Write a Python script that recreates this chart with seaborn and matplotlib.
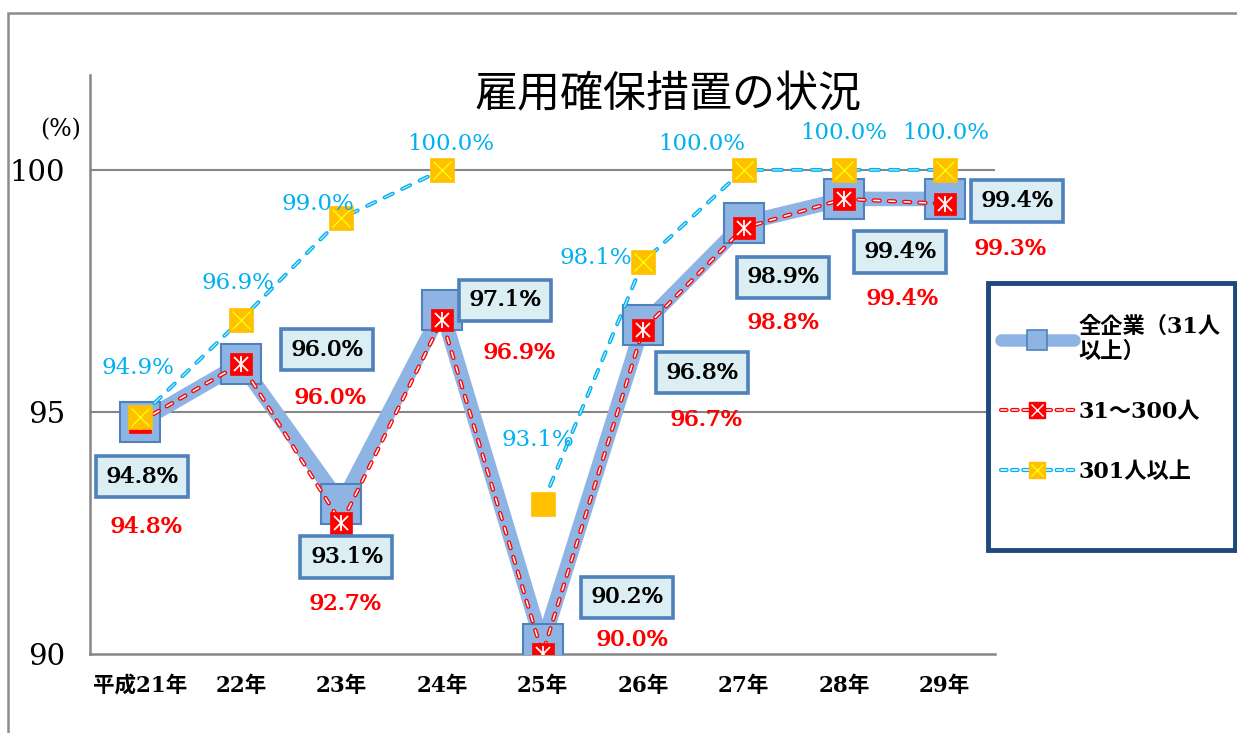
import numpy as np
import pandas as pd
import matplotlib
matplotlib.use("Agg")
import matplotlib.pyplot as plt
from matplotlib.lines import Line2D
from matplotlib.patches import Rectangle
from matplotlib.legend_handler import HandlerBase
import seaborn as sns

# ---------------- data ----------------
years = ["平成21年", "22年", "23年", "24年", "25年", "26年", "27年", "28年", "29年"]
all_firms = [94.8, 96.0, 93.1, 97.1, 90.2, 96.8, 98.9, 99.4, 99.4]
mid_firms = [94.8, 96.0, 92.7, 96.9, 90.0, 96.7, 98.8, 99.4, 99.3]
large_firms = [94.9, 96.9, 99.0, 100.0, 93.1, 98.1, 100.0, 100.0, 100.0]
series_names = ["全企業（31人\n以上）", "31～300人", "301人以上"]
title_text = "雇用確保措置の状況"
y_ticks = [90, 95, 100]

# ---------------- style ----------------
sns.set_theme(style="white")
SERIF = ["DejaVu Serif", "Noto Sans CJK JP"]
plt.rcParams["font.family"] = SERIF
plt.rcParams["text.color"] = "black"
plt.rcParams["xtick.color"] = "black"
plt.rcParams["ytick.color"] = "black"
plt.rcParams["lines.scale_dashes"] = False

C_ALL = "#8EB4E3"
C_ALL_EDGE = "#4F81BD"
C_MID = "#FF0000"
C_LARGE = "#00B0F0"
C_LARGE_IN = "#C8EFFD"
C_YEL = "#FFC000"

RED_DASH = (0, (4.5, 6.5))
BLUE_DASH = (0, (6.5, 7.5))

fig = plt.figure(figsize=(12.37, 7.33), dpi=100)
ax = fig.add_axes([90 / 1237, 1 - 654 / 733, (995 - 90) / 1237, (654 - 75) / 733])

df = pd.DataFrame({"x": np.arange(len(years)), "all": all_firms,
                   "mid": mid_firms, "large": large_firms})

# grid lines
for yv in y_ticks[1:]:
    ax.axhline(yv, color="#868686", lw=1.5, zorder=1)

# 全企業
sns.lineplot(data=df, x="x", y="all", ax=ax, color=C_ALL, lw=10.5,
             zorder=2, legend=False)
ax.lines[-1].set_solid_capstyle("butt")
ax.plot(df["x"], df["all"], ls="none", marker="s", ms=29, mfc=C_ALL,
        mec=C_ALL_EDGE, mew=1.5, zorder=3)

# 31～300人 : hollow-looking dashes (red outer, white inner)
for col, lw, z in ((C_MID, 3.0, 4), ("white", 1.1, 4.1)):
    sns.lineplot(data=df, x="x", y="mid", ax=ax, color=col, lw=lw,
                 zorder=z, legend=False)
    ax.lines[-1].set_linestyle(RED_DASH)
    ax.lines[-1].set_dash_capstyle("round")
ax.plot(df["x"], df["mid"], ls="none", marker="s", ms=16, mfc=C_MID,
        mec=C_MID, mew=0.5, zorder=5)
ax.plot(df["x"], df["mid"], ls="none", marker="x", ms=10, mec="white",
        mew=1.3, zorder=6)
ax.plot(df["x"], df["mid"], ls="none", marker="|", ms=12, mec="white",
        mew=1.3, zorder=6)

# 301人以上 (gap between 24年 and 25年)
for seg in (df.iloc[:4], df.iloc[4:]):
    for col, lw, z in ((C_LARGE, 2.8, 7), (C_LARGE_IN, 0.8, 7.1)):
        sns.lineplot(data=seg, x="x", y="large", ax=ax, color=col, lw=lw,
                     zorder=z, legend=False)
        ax.lines[-1].set_linestyle(BLUE_DASH)
        ax.lines[-1].set_dash_capstyle("round")
ax.plot(df["x"], df["large"], ls="none", marker="s", ms=17, mfc=C_YEL,
        mec=C_YEL, mew=0.5, zorder=8)
mask = np.arange(len(years)) != 4
ax.plot(df["x"][mask], df["large"][mask], ls="none", marker="x", ms=13,
        mec="#FFFF00", mew=1.0, zorder=9)

# ---------------- labels ----------------
off_all = [(2, -55), (86, 14), (5, -53), (63, 10), (84, 47), (59, -48),
           (39, -54), (56, -53), (72, -2)]
off_mid = [(6, -105), (89, -34), (3, -81), (77, -33), (89, 14), (63, -90),
           (39, -95), (58, -100), (65, -45)]
off_large = [(-2, 49), (-3, 37), (-24, 14), (9, 26), (-5, 64), (-47, 4),
             (-42, 26), (0, 37), (1, 37)]

LBL = 16.5
NUMFONT = "DejaVu Serif"


def label(txt, xy, off, color, shift, bbox=None):
    """Draw text; a second copy shifted slightly gives a medium weight."""
    ax.annotate(txt, xy, xytext=off, textcoords="offset pixels",
                ha="center", va="center", fontsize=LBL, color=color,
                fontfamily=NUMFONT, zorder=10, bbox=bbox)
    if shift:
        ax.annotate(txt, xy, xytext=(off[0] + shift, off[1]),
                    textcoords="offset pixels", ha="center", va="center",
                    fontsize=LBL, color=color, fontfamily=NUMFONT,
                    zorder=10.5)


for i in range(len(years)):
    label(f"{all_firms[i]:.1f}%", (i, all_firms[i]), off_all[i], "black",
          1.0, bbox=dict(boxstyle="square,pad=0.42", fc="#DAEEF3",
                         ec=C_ALL_EDGE, lw=2.6))
    label(f"{mid_firms[i]:.1f}%", (i, mid_firms[i]), off_mid[i], C_MID, 1.0)
    label(f"{large_firms[i]:.1f}%", (i, large_firms[i]), off_large[i],
          C_LARGE, 0)

# ---------------- axes ----------------
ax.set_xlim(-0.5, 8.5)
ax.set_ylim(90, 101.96)
ax.set_xticks(range(len(years)))
ax.set_xticklabels(years, fontsize=15.5, fontweight="bold")
ax.set_yticks(y_ticks)
ax.set_yticklabels([str(v) for v in y_ticks], fontsize=21)
ax.tick_params(axis="both", length=0)
ax.tick_params(axis="x", pad=15)
ax.tick_params(axis="y", pad=18)
ax.set_xlabel("")
ax.set_ylabel("")
for s in ("top", "right"):
    ax.spines[s].set_visible(False)
for s in ("left", "bottom"):
    ax.spines[s].set_color("#868686")
    ax.spines[s].set_linewidth(1.8)

fig.text(61 / 1237, 1 - 130 / 733, "(%)", fontsize=17, ha="center",
         va="center", family=SERIF)
fig.text(668 / 1237, 1 - 95 / 733, title_text, fontsize=31, ha="center",
         va="center", family=["Noto Sans CJK JP"], color="black")

# outer border
fig.patches.append(Rectangle((8 / 1237, -0.2), 1.2, 1 - 13 / 733 + 0.2,
                             transform=fig.transFigure, fill=False,
                             ec="#8C8C8C", lw=1.8, zorder=0))

# ---------------- legend ----------------
fig.patches.append(Rectangle((988 / 1237, 1 - 550 / 733), 0.2,
                             (550 - 283) / 733, transform=fig.transFigure,
                             fc="white", ec="#1F497D", lw=3.5, zorder=20))


class DashHandler(HandlerBase):
    def __init__(self, outer, inner, dash, mfc, mec, ms, xmark=None):
        super().__init__()
        self.outer, self.inner, self.dash = outer, inner, dash
        self.mfc, self.mec, self.ms, self.xmark = mfc, mec, ms, xmark

    def create_artists(self, legend, orig_handle, xdescent, ydescent, width,
                       height, fontsize, trans):
        y = height / 2 - ydescent
        xs = [-xdescent, width - xdescent]
        a = Line2D(xs, [y, y], color=self.outer, lw=3.0, ls=self.dash,
                   dash_capstyle="round", transform=trans)
        b = Line2D(xs, [y, y], color=self.inner, lw=1.1, ls=self.dash,
                   dash_capstyle="round", transform=trans)
        m = Line2D([width / 2 - xdescent], [y], ls="none", marker="s",
                   ms=self.ms, mfc=self.mfc, mec=self.mec, transform=trans)
        arts = [a, b, m]
        if self.xmark:
            arts.append(Line2D([width / 2 - xdescent], [y], ls="none",
                               marker="x", ms=self.ms * 0.7, mec=self.xmark,
                               mew=1.0, transform=trans))
        return arts


h_all = Line2D([], [], color=C_ALL, lw=9, marker="s", ms=14, mfc=C_ALL,
               mec=C_ALL_EDGE, mew=1.2, solid_capstyle="round")
h_mid = Line2D([], [])
h_large = Line2D([], [])
leg = fig.legend([h_all, h_mid, h_large], series_names,
                 loc="upper left", bbox_to_anchor=(983 / 1237, 1 - 298 / 733),
                 frameon=False, handlelength=3.3, handletextpad=0.2,
                 borderpad=0.3, labelspacing=1.7,
                 handler_map={
                     h_mid: DashHandler(C_MID, "white", (0, (4, 4)), C_MID,
                                        C_MID, 12, "white"),
                     h_large: DashHandler(C_LARGE, "white", (0, (4, 4)),
                                          C_YEL, C_YEL, 12, "#FFFF00")},
                 prop={"family": SERIF, "size": 16, "weight": "bold"})
leg.set_zorder(21)

fig.savefig("out.png", dpi=100)
